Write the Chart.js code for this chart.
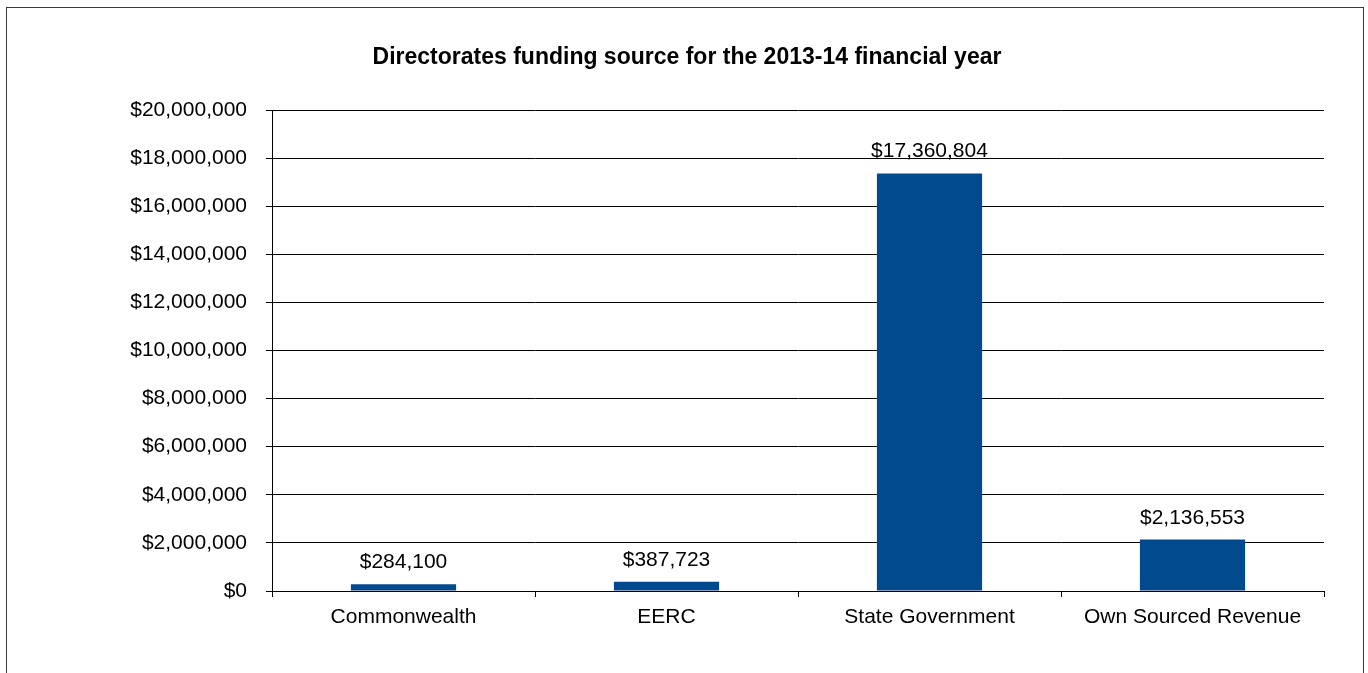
<!DOCTYPE html>
<html>
<head>
<meta charset="utf-8">
<script src="https://cdn.jsdelivr.net/npm/chart.js@4/dist/chart.umd.min.js"></script>
<style>
  body { margin: 0; background: #fff; overflow: hidden; }
  #frame {
    position: absolute; left: 6px; top: 7px; width: 1356px; height: 700px;
    border: 1px solid #3a3a3a;
  }
  #wrap { position: absolute; left: 0; top: 0; width: 1368px; height: 673px; }
</style>
</head>
<body>
<div id="frame"></div>
<div id="wrap"><canvas id="chart" width="1368" height="673"></canvas></div>
<script>
const categories = ["Commonwealth", "EERC", "State Government", "Own Sourced Revenue"];
const funding = [284100, 387723, 17360804, 2136553];
const yTicks = [0, 2000000, 4000000, 6000000, 8000000, 10000000, 12000000, 14000000, 16000000, 18000000, 20000000];
const chartTitle = "Directorates funding source for the 2013-14 financial year";

const FONT = "'Liberation Sans', Arial, sans-serif";
const money = (v) => "$" + v.toLocaleString("en-US");

// title centered on the whole frame, value labels above bars
const extras = {
  id: "extras",
  afterDraw(chart) {
    const ctx = chart.ctx;
    ctx.save();
    ctx.fillStyle = "#000";
    ctx.textAlign = "center";
    ctx.textBaseline = "alphabetic";
    ctx.font = "bold 23px " + FONT;
    ctx.fillText(chartTitle, 687, 64);

    ctx.font = "21px " + FONT;
    chart.getDatasetMeta(0).data.forEach((bar, i) => {
      ctx.fillText(money(funding[i]), bar.x, bar.y - 16);
    });
    ctx.restore();
  }
};

new Chart(document.getElementById("chart"), {
  type: "bar",
  data: {
    labels: categories,
    datasets: [{
      data: funding,
      backgroundColor: "#004a8d",
      borderWidth: 0,
      categoryPercentage: 1,
      barPercentage: 0.4
    }]
  },
  options: {
    responsive: false,
    animation: false,
    layout: { padding: { top: 110, right: 44, bottom: 0, left: 0 } },
    plugins: {
      legend: { display: false },
      title: { display: false },
      tooltip: { enabled: false }
    },
    scales: {
      x: {
        afterFit: (scale) => { scale.height = 82; },
        grid: { drawOnChartArea: false, drawTicks: true, tickLength: 6, color: "#000", offset: true },
        border: { color: "#000", width: 1 },
        ticks: { color: "#000", font: { family: FONT, size: 21 }, padding: 8, maxRotation: 0 }
      },
      y: {
        min: 0,
        max: 20000000,
        afterFit: (scale) => { scale.width = 272; },
        afterBuildTicks: (scale) => { scale.ticks = yTicks.map((v) => ({ value: v })); },
        grid: { color: "#000", tickLength: 6, drawTicks: true },
        border: { color: "#000", width: 1 },
        ticks: {
          color: "#000",
          font: { family: FONT, size: 21 },
          padding: 19,
          callback: (v) => money(v)
        }
      }
    }
  },
  plugins: [extras]
});
</script>
</body>
</html>
